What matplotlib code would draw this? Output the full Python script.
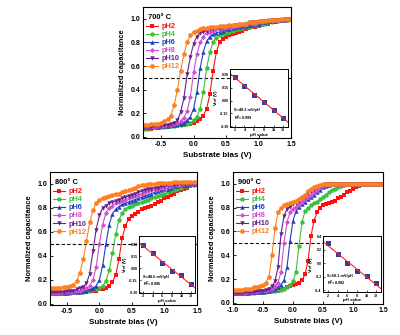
import numpy as np
import matplotlib
matplotlib.use("Agg")
import matplotlib.pyplot as plt

plt.rcParams['font.family'] = ['Liberation Sans', 'DejaVu Sans']
plt.rcParams['font.weight'] = 'bold'

# ---------------- data ----------------
labels = ["pH2", "pH4", "pH6", "pH8", "pH10", "pH12"]
ph_values = [2, 4, 6, 8, 10, 12]

bias_a = np.round(np.arange(-0.80, 1.5001, 0.05), 2)   # 700 C and 800 C sweeps
bias_b = np.round(np.arange(-1.00, 1.5001, 0.05), 2)   # 900 C sweep

# 700 C
c700_ph2 = [0.07,0.07,0.07,0.07,0.08,0.08,0.08,0.08,0.08,0.09,0.09,0.09,0.10,0.10,0.11,0.11,0.12,0.13,0.15,0.18,0.24,0.36,0.56,0.72,0.80,0.83,0.85,0.86,0.87,0.88,0.89,0.90,0.91,0.92,0.93,0.93,0.94,0.95,0.96,0.96,0.97,0.97,0.98,0.98,0.99,0.99,1.00]
c700_ph4 = [0.07,0.07,0.07,0.08,0.08,0.08,0.08,0.08,0.09,0.09,0.09,0.10,0.10,0.11,0.11,0.12,0.14,0.17,0.24,0.38,0.58,0.72,0.80,0.84,0.86,0.87,0.88,0.89,0.90,0.91,0.91,0.92,0.93,0.93,0.94,0.95,0.95,0.96,0.96,0.97,0.97,0.98,0.98,0.99,0.99,0.99,1.00]
c700_ph6 = [0.08,0.08,0.08,0.08,0.08,0.08,0.09,0.09,0.09,0.10,0.10,0.11,0.11,0.12,0.14,0.17,0.24,0.38,0.58,0.72,0.81,0.85,0.87,0.88,0.89,0.90,0.91,0.91,0.92,0.93,0.93,0.94,0.94,0.95,0.95,0.96,0.96,0.97,0.97,0.98,0.98,0.98,0.99,0.99,0.99,1.00,1.00]
c700_ph8 = [0.08,0.08,0.08,0.08,0.08,0.09,0.09,0.09,0.10,0.10,0.11,0.12,0.13,0.16,0.22,0.34,0.55,0.70,0.80,0.85,0.88,0.89,0.90,0.91,0.91,0.92,0.92,0.93,0.93,0.94,0.94,0.95,0.95,0.96,0.96,0.96,0.97,0.97,0.98,0.98,0.98,0.99,0.99,0.99,1.00,1.00,1.00]
c700_ph10 = [0.08,0.08,0.08,0.08,0.09,0.09,0.09,0.10,0.10,0.11,0.12,0.14,0.21,0.33,0.53,0.68,0.79,0.85,0.88,0.89,0.90,0.91,0.91,0.92,0.92,0.93,0.93,0.94,0.94,0.95,0.95,0.95,0.96,0.96,0.97,0.97,0.97,0.98,0.98,0.98,0.99,0.99,0.99,0.99,1.00,1.00,1.00]
c700_ph12 = [0.10,0.10,0.10,0.11,0.11,0.11,0.12,0.13,0.15,0.18,0.27,0.40,0.56,0.70,0.80,0.86,0.89,0.90,0.91,0.92,0.92,0.93,0.93,0.93,0.94,0.94,0.94,0.95,0.95,0.95,0.96,0.96,0.96,0.97,0.97,0.97,0.98,0.98,0.98,0.99,0.99,0.99,0.99,1.00,1.00,1.00,1.00]

# 800 C
c800_ph2 = [0.09,0.09,0.09,0.09,0.09,0.09,0.09,0.09,0.09,0.10,0.10,0.10,0.10,0.11,0.11,0.11,0.12,0.12,0.13,0.15,0.18,0.24,0.37,0.55,0.65,0.71,0.73,0.75,0.77,0.79,0.80,0.81,0.82,0.83,0.85,0.86,0.88,0.89,0.91,0.92,0.94,0.95,0.96,0.97,0.98,0.99,1.00]
c800_ph4 = [0.09,0.09,0.09,0.09,0.09,0.09,0.09,0.09,0.10,0.10,0.10,0.10,0.11,0.11,0.12,0.12,0.13,0.15,0.19,0.28,0.42,0.58,0.70,0.76,0.79,0.81,0.82,0.83,0.84,0.85,0.86,0.87,0.88,0.89,0.90,0.91,0.92,0.93,0.94,0.95,0.96,0.97,0.98,0.98,0.99,0.99,1.00]
c800_ph6 = [0.09,0.09,0.09,0.09,0.09,0.09,0.09,0.10,0.10,0.10,0.10,0.11,0.11,0.12,0.13,0.15,0.20,0.32,0.50,0.66,0.75,0.79,0.81,0.83,0.84,0.85,0.86,0.87,0.88,0.89,0.90,0.91,0.92,0.93,0.94,0.95,0.96,0.96,0.97,0.98,0.98,0.99,0.99,0.99,1.00,1.00,1.00]
c800_ph8 = [0.09,0.09,0.09,0.09,0.09,0.10,0.10,0.10,0.10,0.11,0.11,0.12,0.13,0.15,0.20,0.31,0.50,0.66,0.76,0.80,0.82,0.84,0.85,0.86,0.87,0.88,0.89,0.90,0.91,0.92,0.93,0.94,0.95,0.95,0.96,0.97,0.97,0.98,0.98,0.99,0.99,0.99,1.00,1.00,1.00,1.00,1.00]
c800_ph10 = [0.10,0.10,0.10,0.10,0.10,0.10,0.11,0.11,0.11,0.12,0.13,0.14,0.17,0.25,0.44,0.62,0.74,0.80,0.82,0.84,0.85,0.86,0.87,0.88,0.89,0.90,0.91,0.92,0.93,0.94,0.95,0.96,0.96,0.97,0.97,0.98,0.98,0.99,0.99,0.99,1.00,1.00,1.00,1.00,1.00,1.00,1.00]
c800_ph12 = [0.13,0.13,0.13,0.13,0.13,0.14,0.14,0.15,0.16,0.19,0.26,0.37,0.52,0.68,0.78,0.84,0.87,0.88,0.89,0.90,0.91,0.92,0.92,0.93,0.94,0.95,0.96,0.97,0.98,0.99,0.99,1.00,1.00,1.00,1.01,1.01,1.01,1.01,1.01,1.02,1.02,1.02,1.02,1.02,1.02,1.02,1.02]

# 900 C
c900_ph2 = [0.08,0.08,0.08,0.08,0.08,0.08,0.08,0.08,0.08,0.09,0.09,0.09,0.09,0.10,0.10,0.10,0.11,0.12,0.13,0.14,0.15,0.16,0.17,0.19,0.24,0.35,0.56,0.69,0.76,0.80,0.82,0.83,0.84,0.85,0.86,0.88,0.89,0.91,0.93,0.94,0.96,0.97,0.98,0.99,1.00,1.00,1.00,1.00,1.00,1.00,1.00]
c900_ph4 = [0.08,0.08,0.08,0.08,0.08,0.08,0.08,0.08,0.09,0.09,0.09,0.09,0.10,0.10,0.10,0.11,0.11,0.12,0.13,0.15,0.18,0.26,0.48,0.68,0.77,0.80,0.82,0.84,0.85,0.87,0.89,0.91,0.93,0.95,0.96,0.97,0.98,0.99,1.00,1.00,1.00,1.00,1.00,1.00,1.00,1.00,1.00,1.00,1.00,1.00,1.00]
c900_ph6 = [0.08,0.08,0.08,0.08,0.08,0.08,0.09,0.09,0.09,0.09,0.09,0.10,0.10,0.11,0.12,0.13,0.15,0.19,0.30,0.52,0.69,0.77,0.81,0.83,0.85,0.87,0.89,0.91,0.93,0.95,0.97,0.98,0.99,1.00,1.00,1.00,1.00,1.00,1.00,1.00,1.00,1.00,1.00,1.00,1.00,1.00,1.00,1.00,1.00,1.00,1.00]
c900_ph8 = [0.08,0.08,0.08,0.08,0.08,0.09,0.09,0.09,0.09,0.10,0.10,0.10,0.11,0.12,0.14,0.17,0.26,0.50,0.68,0.76,0.79,0.81,0.83,0.85,0.87,0.89,0.91,0.93,0.95,0.97,0.98,0.99,1.00,1.00,1.00,1.00,1.00,1.00,1.00,1.00,1.00,1.00,1.00,1.00,1.00,1.00,1.00,1.00,1.00,1.00,1.00]
c900_ph10 = [0.08,0.08,0.08,0.08,0.09,0.09,0.09,0.09,0.10,0.10,0.10,0.11,0.12,0.14,0.18,0.30,0.58,0.73,0.79,0.81,0.83,0.84,0.86,0.88,0.90,0.92,0.94,0.96,0.97,0.98,0.99,1.00,1.00,1.00,1.00,1.00,1.00,1.00,1.00,1.00,1.00,1.00,1.00,1.00,1.00,1.00,1.00,1.00,1.00,1.00,1.00]
c900_ph12 = [0.11,0.11,0.11,0.11,0.12,0.12,0.12,0.13,0.13,0.14,0.15,0.17,0.22,0.40,0.63,0.76,0.80,0.82,0.83,0.84,0.85,0.86,0.87,0.89,0.91,0.94,0.96,0.97,0.98,0.99,1.00,1.00,1.00,1.00,1.00,1.00,1.00,1.00,1.00,1.00,1.00,1.00,1.00,1.00,1.00,1.00,1.00,1.00,1.00,1.00,1.00]

# insets: reference voltage vs pH
vref_700 = [0.28, 0.17, 0.07, -0.02, -0.11, -0.20]
vref_800 = [0.29, 0.19, 0.06, -0.04, -0.09, -0.20]
vref_900 = [0.30, 0.13, 0.00, -0.12, -0.19, -0.30]
inset_text = {"700": ("S=48.2 mV/pH", "R$^2$=0.999"),
              "800": ("S=48.6 mV/pH", "R$^2$=0.996"),
              "900": ("S=58.1 mV/pH", "R$^2$=0.992")}

# ---------------- style ----------------
colors = ["#ff1010", "#3cc03c", "#2040c0", "#d050d0", "#6a1f8c", "#ff8020"]
markers = ["s", "o", "^", "D", "v", "o"]
msizes = [3.0, 3.2, 3.2, 2.6, 3.2, 3.4]

fig = plt.figure(figsize=(4.0, 3.35), dpi=100)

panels = [
    dict(title="700° C", rect=[0.3575, 0.588, 0.37, 0.391], x=bias_a,
         curves=[c700_ph2, c700_ph4, c700_ph6, c700_ph8, c700_ph10, c700_ph12],
         xlim=(-0.78, 1.5), xticks=[-0.5, 0.0, 0.5, 1.0, 1.5],
         inset=[0.575, 0.621, 0.145, 0.173], vref=vref_700, key="700",
         ixlim=(1, 13), iylim=(-0.31, 0.37), iyticks=[-0.30, -0.15, 0.00, 0.15, 0.30], ifmt="%.2f"),
    dict(title="800° C", rect=[0.125, 0.0896, 0.3675, 0.397], x=bias_a,
         curves=[c800_ph2, c800_ph4, c800_ph6, c800_ph8, c800_ph10, c800_ph12],
         xlim=(-0.76, 1.5), xticks=[-0.5, 0.0, 0.5, 1.0, 1.5],
         inset=[0.3475, 0.1254, 0.14, 0.170], vref=vref_800, key="800",
         ixlim=(1.2, 12.8), iylim=(-0.31, 0.40), iyticks=[-0.30, -0.15, 0.00, 0.15, 0.30], ifmt="%.2f"),
    dict(title="900° C", rect=[0.5825, 0.0925, 0.375, 0.394], x=bias_b,
         curves=[c900_ph2, c900_ph4, c900_ph6, c900_ph8, c900_ph10, c900_ph12],
         xlim=(-1.0, 1.5), xticks=[-1.0, -0.5, 0.0, 0.5, 1.0, 1.5],
         inset=[0.8075, 0.128, 0.145, 0.167], vref=vref_900, key="900",
         ixlim=(1, 13), iylim=(-0.43, 0.40), iyticks=[-0.4, -0.2, 0.0, 0.2, 0.4], ifmt="%.1f"),
]

for p in panels:
    ax = fig.add_axes(p["rect"])
    for yv, lab, col, mk, ms in zip(p["curves"], labels, colors, markers, msizes):
        ax.plot(p["x"], yv, color=col, marker=mk, ms=ms, mew=0, lw=0.8, label=lab)
    ax.axhline(0.5, color="black", lw=0.8, ls=(0, (3, 2)), zorder=1)
    ax.set_xlim(*p["xlim"])
    ax.set_ylim(-0.01, 1.1)
    ax.set_xticks(p["xticks"])
    ax.set_xticklabels(["%.1f" % t for t in p["xticks"]])
    ax.set_yticks([0.0, 0.2, 0.4, 0.6, 0.8, 1.0])
    ax.tick_params(direction="in", length=2, width=0.6, labelsize=5, pad=2)
    for s in ax.spines.values():
        s.set_linewidth(0.8)
    ax.set_xlabel("Substrate bias (V)", fontsize=5.8, fontweight="bold", labelpad=3)
    ax.set_ylabel("Normalized capacitance", fontsize=5.4, fontweight="bold", labelpad=3)
    ax.text(0.035, 0.95, p["title"], transform=ax.transAxes, fontsize=5.4,
            fontweight="bold", va="top", ha="left")
    leg = ax.legend(loc="upper left", bbox_to_anchor=(0.0, 0.9), frameon=False,
                    fontsize=5.3, handlelength=1.7, handletextpad=0.4,
                    labelspacing=0.12, borderaxespad=0.2, borderpad=0.2)
    for t, col in zip(leg.get_texts(), colors):
        t.set_color(col)

    ia = fig.add_axes(p["inset"])
    ia.set_facecolor("white")
    ia.set_zorder(5)
    ia.plot(ph_values, p["vref"], ls="none", marker="s", ms=3.6, mew=0, color="#2a3fa0")
    k, b = np.polyfit(ph_values, p["vref"], 1)
    xl = np.array(p["ixlim"])
    ia.plot(xl, k * xl + b, color="#ff2020", lw=0.8)
    ia.set_xlim(*p["ixlim"])
    ia.set_ylim(*p["iylim"])
    ia.set_xticks(ph_values)
    ia.set_yticks(p["iyticks"])
    ia.set_yticklabels([p["ifmt"] % t for t in p["iyticks"]])
    ia.tick_params(direction="in", length=1.2, width=0.5, labelsize=2.6, pad=1)
    for s in ia.spines.values():
        s.set_linewidth(0.7)
    ia.set_xlabel("pH value", fontsize=3.2, fontweight="bold", labelpad=0.5)
    ia.set_ylabel("V$_{ref}$ (V)", fontsize=3.2, fontweight="bold", labelpad=0.5)
    s1, s2 = inset_text[p["key"]]
    ia.text(0.07, 0.27, s1, transform=ia.transAxes, fontsize=2.8, fontweight="bold")
    ia.text(0.07, 0.12, s2, transform=ia.transAxes, fontsize=2.8, fontweight="bold")

fig.savefig("out.png", dpi=100)
